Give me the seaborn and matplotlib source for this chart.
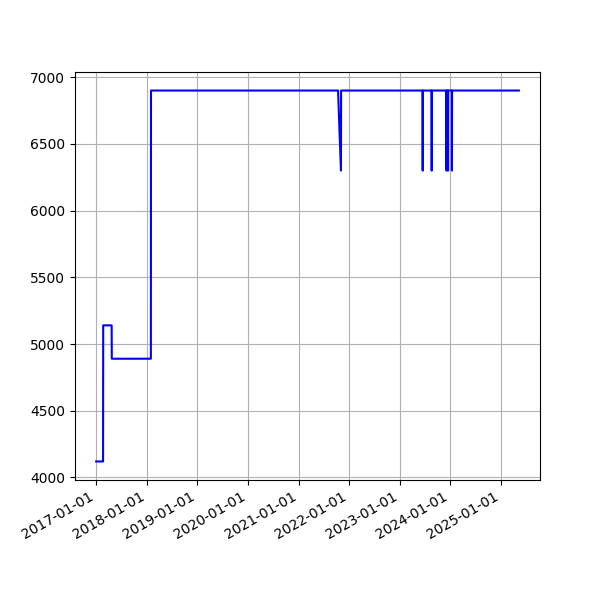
import matplotlib
matplotlib.use("Agg")
import matplotlib.pyplot as plt
import matplotlib.dates as mdates
import seaborn as sns
import pandas as pd

dates = ["2017-01-01", "2017-02-20", "2017-02-21", "2017-04-23", "2017-04-24",
         "2018-01-31", "2018-02-01", "2021-10-13", "2021-11-03", "2021-11-04",
         "2023-06-15", "2023-06-16", "2023-06-17",
         "2023-08-19", "2023-08-20", "2023-08-21",
         "2023-12-04", "2023-12-05", "2023-12-06",
         "2023-12-15", "2023-12-16", "2023-12-17",
         "2024-01-12", "2024-01-13", "2024-01-14",
         "2025-05-10"]
values = [4120, 4120, 5140, 5140, 4890,
          4890, 6900, 6900, 6300, 6900,
          6900, 6300, 6900,
          6900, 6300, 6900,
          6900, 6300, 6900,
          6900, 6300, 6900,
          6900, 6300, 6900,
          6900]

df = pd.DataFrame({"date": pd.to_datetime(dates), "value": values})

fig, ax = plt.subplots(figsize=(6, 6), dpi=100)
sns.lineplot(data=df, x="date", y="value", ax=ax, color="blue",
             estimator=None, sort=True, linewidth=1.5)
ax.set_xlabel("")
ax.set_ylabel("")
ax.grid(True)
ax.xaxis.set_major_locator(mdates.YearLocator())
ax.xaxis.set_major_formatter(mdates.DateFormatter("%Y-%m-%d"))
fig.autofmt_xdate()
fig.savefig("out.png", dpi=100)
